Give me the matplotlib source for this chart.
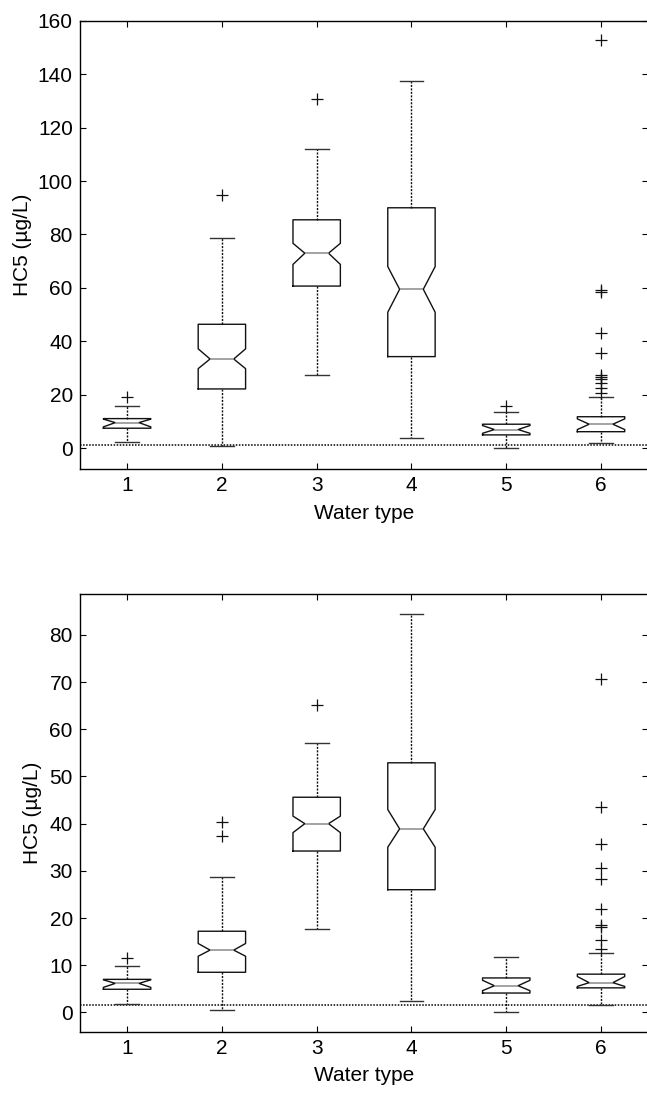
import matplotlib
matplotlib.use("Agg")
import matplotlib.pyplot as plt

plt.rcParams["font.family"] = ["Liberation Sans", "DejaVu Sans"]

water_types = [1, 2, 3, 4, 5, 6]

# upper panel
top_q1 = [7.5, 22.2, 60.7, 34.3, 5.0, 6.2]
top_med = [9.6, 33.4, 73.0, 59.5, 7.0, 9.0]
top_q3 = [11.1, 46.4, 85.5, 90.0, 9.0, 11.8]
top_cilo = [8.0, 29.8, 68.8, 50.9, 5.6, 7.0]
top_cihi = [10.9, 37.2, 76.7, 68.0, 8.5, 11.0]
top_lo = [2.3, 1.0, 27.4, 4.0, 0.0, 2.0]
top_hi = [16.0, 78.7, 111.9, 137.6, 13.7, 19.0]
top_fliers = [
    [19.0],
    [94.8],
    [130.8],
    [],
    [16.0],
    [152.7, 59.2, 58.5, 43.0, 35.8, 27.4, 26.8, 25.8, 24.3, 22.4, 20.7],
]
top_threshold = 1.3

# lower panel
bot_q1 = [4.9, 8.5, 34.2, 26.0, 4.1, 5.2]
bot_med = [6.15, 13.2, 40.0, 38.9, 5.65, 6.3]
bot_q3 = [7.0, 17.2, 45.6, 52.9, 7.3, 8.1]
bot_cilo = [5.3, 11.9, 38.1, 35.0, 4.6, 5.5]
bot_cihi = [6.9, 14.6, 41.6, 43.0, 6.8, 7.6]
bot_lo = [1.7, 0.6, 17.6, 2.5, 0.1, 1.55]
bot_hi = [9.75, 28.75, 57.2, 84.5, 11.7, 12.5]
bot_fliers = [
    [11.6],
    [40.3, 37.3],
    [65.1],
    [],
    [],
    [70.7, 43.5, 35.75, 30.7, 28.2, 21.9, 18.5, 18.2, 15.3, 13.35],
]
bot_threshold = 1.5


def make_stats(q1, med, q3, cilo, cihi, lo, hi, fliers):
    stats = []
    for i in range(len(q1)):
        stats.append(dict(med=med[i], q1=q1[i], q3=q3[i], cilo=cilo[i], cihi=cihi[i],
                          whislo=lo[i], whishi=hi[i], fliers=fliers[i]))
    return stats


def draw_panel(ax, stats, threshold, ylim, yticks, ylabel_x):
    ax.bxp(
        stats,
        positions=water_types,
        widths=0.5,
        shownotches=True,
        showfliers=True,
        boxprops=dict(color="#111111", linewidth=1.0),
        medianprops=dict(color="#8a8a8a", linewidth=1.1),
        whiskerprops=dict(color="#111111", linewidth=1.0, linestyle=(0, (1.5, 1.0))),
        capprops=dict(color="#333333", linewidth=1.0),
        flierprops=dict(marker="+", markersize=8.5, markeredgewidth=0.9,
                        markeredgecolor="#111111", linestyle="none"),
    )
    ax.axhline(threshold, color="black", linewidth=1.1, linestyle=(0, (1, 1)), zorder=1)
    ax.set_xlim(0.5, 6.5)
    ax.set_ylim(*ylim)
    ax.set_yticks(yticks)
    ax.set_xticks(water_types)
    ax.set_xticklabels([str(w) for w in water_types])
    ax.tick_params(direction="in", length=4, width=0.8, labelsize=15, pad=5,
                   top=True, right=True)
    for spine in ax.spines.values():
        spine.set_linewidth(1.0)
    ax.set_xlabel("Water type", fontsize=15)
    ax.set_ylabel("HC5 (µg/L)", fontsize=15)
    ax.xaxis.set_label_coords(0.5, -0.078)
    ax.yaxis.set_label_coords(ylabel_x, 0.5)


fig = plt.figure(figsize=(6.47, 10.97), dpi=100)
ax_top = fig.add_axes([0.1232, 0.5725, 0.879, 0.4086])
ax_bot = fig.add_axes([0.1232, 0.0595, 0.879, 0.3987])

draw_panel(ax_top,
           make_stats(top_q1, top_med, top_q3, top_cilo, top_cihi, top_lo, top_hi, top_fliers),
           top_threshold, (-7.75, 160), list(range(0, 161, 20)), -0.084)
draw_panel(ax_bot,
           make_stats(bot_q1, bot_med, bot_q3, bot_cilo, bot_cihi, bot_lo, bot_hi, bot_fliers),
           bot_threshold, (-4.1, 88.6), list(range(0, 81, 10)), -0.067)

fig.savefig("out.png", dpi=100)
